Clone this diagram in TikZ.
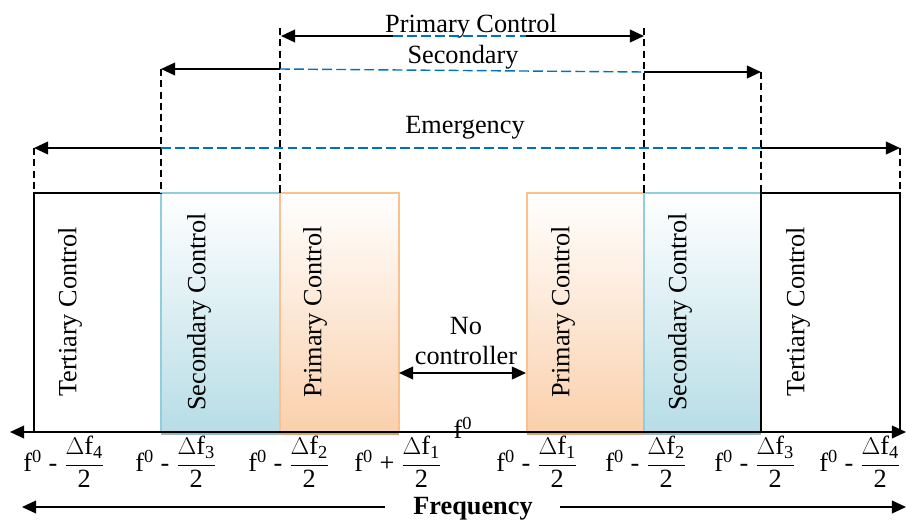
\documentclass[tikz,border=0pt]{standalone}
\usepackage{amsmath}
\usepackage{fontspec}
\setmainfont{Liberation Serif}
\usetikzlibrary{arrows.meta}
\definecolor{secblue}{RGB}{183,221,230}
\definecolor{secline}{RGB}{146,205,220}
\definecolor{secstrip}{RGB}{150,185,195}
\definecolor{primpeach}{RGB}{250,208,172}
\definecolor{primline}{RGB}{250,192,144}
\definecolor{primstrip}{RGB}{212,165,125}
\definecolor{emblue}{RGB}{0,112,192}
\tikzset{
>={Triangle[length=10pt,width=9pt]},
  tertband/.style={draw=black, line width=1.1pt, fill=white},
  secband/.style={
    draw=secline, line width=1.3pt,
    top color=white, bottom color=secblue},
  primband/.style={
    draw=primline, line width=1.3pt,
    top color=white, bottom color=primpeach},
  rangearrow/.style={->, line width=1.3pt},
  guideline/.style={line width=0.9pt, dash pattern=on 5pt off 3pt},
  bluedash/.style={emblue, line width=1pt, dash pattern=on 7pt off 3pt},
  vlbl/.style={rotate=90},
}
\begin{document}
\begin{tikzpicture}[x=0.025cm, y=-0.025cm, font=\fontsize{18.7}{22}\selectfont]
			\useasboundingbox (0,0) rectangle (906,520);
			% frequency bands
			\foreach \xa/\xb/\sty in {34/161/tertband, 161/280/secband, 280/399/primband, 527/644/primband, 644/761/secband, 761/900/tertband}{
				\path[\sty] (\xa,193) rectangle (\xb,432);
			}
			\foreach \xa/\xb/\col in {161/280/secstrip, 280/399/primstrip, 527/644/primstrip, 644/761/secstrip}{
				\fill[\col] (\xa,432) rectangle (\xb,435);
			}
			\foreach \x/\txt/\nm in {70/Tertiary Control/t1, 199/Secondary Control/s1, 315/Primary Control/p1, 563/Primary Control/p2, 680/Secondary Control/s2, 798/Tertiary Control/t2}{
				\node[vlbl] (\nm) at (\x,312) {\txt};
			}
			\coordinate (axL) at (10,432);
			\coordinate (axR) at (906,432);
			\draw[<->, line width=1.3pt] (axL) -- (axR);
			% guide lines
			\foreach \x/\y in {34/148, 161/69, 280/28, 644/28, 761/72, 900/148}{
				\draw[guideline] (\x,\y) -- (\x,193);
			}
			% control ranges
			\coordinate (pa) at (281,36);
			\coordinate (pb) at (393,36);
			\coordinate (pc) at (526,36);
			\coordinate (pd) at (644,36);
			\coordinate (sa) at (161,69);
			\coordinate (sb) at (280,69);
			\coordinate (sc) at (644,72);
			\coordinate (sd) at (761,72);
			\coordinate (ea) at (34,148);
			\coordinate (eb) at (161,148);
			\coordinate (ec) at (761,148);
			\coordinate (ed) at (900,148);
			\node[anchor=base] (primtxt) at (471,32) {Primary Control};
			\node[anchor=base] (sectxt) at (463,63) {Secondary};
			\node[anchor=base] (emtxt) at (465,133) {Emergency};
			\draw[bluedash] (pb) -- (pc);
			\draw[bluedash] (sb) -- (sc);
			\draw[bluedash] (eb) -- (ec);
			\draw[rangearrow] (pb) -- (pa);
			\draw[rangearrow] (pc) -- (pd);
			\draw[rangearrow] (sb) -- (sa);
			\draw[rangearrow] (sc) -- (sd);
			\draw[rangearrow] (eb) -- (ea);
			\draw[rangearrow] (ec) -- (ed);
			% dead band
			\node[align=center] (noctl) at (466,341) {No\\controller};
			\coordinate (na) at (399,373);
			\coordinate (nb) at (526,373);
			\draw[<->, line width=1.3pt] (na) -- (nb);
			\node[anchor=base] (fzero) at (463,438) {f\textsuperscript{0}};
			% band edges
			\foreach \x/\s/\k/\nm in {64/-/4/ta, 176/-/3/tb, 289/-/2/tc, 398/+/1/td, 537/-/1/te, 646/-/2/tf, 755/-/3/tg, 860/-/4/th}{
				\node[inner sep=0pt] (\nm) at (\x,462) {f\textsuperscript{0} \s{} $\dfrac{\text{$\Delta$f}_{\text{\k}}}{\text{2}}$};
			}
			\node[anchor=base, inner sep=0pt, font=\fontsize{18.7}{22}\selectfont\bfseries] (freq) at (473,514) {Frequency};
			\coordinate (fa) at (385,507);
			\coordinate (fb) at (22,507);
			\coordinate (fc) at (560,507);
			\coordinate (fd) at (906,507);
			\draw[rangearrow] (fa) -- (fb);
			\draw[rangearrow] (fc) -- (fd);
		\end{tikzpicture}
\end{document}
